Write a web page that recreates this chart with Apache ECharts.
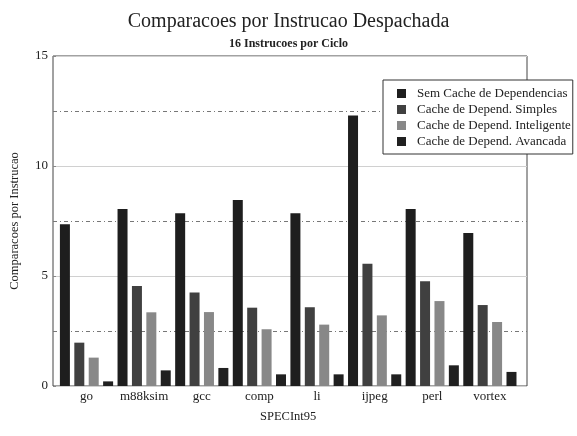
<!DOCTYPE html>
<html>
<head>
<meta charset="utf-8">
<script src="https://cdn.jsdelivr.net/npm/echarts@6/dist/echarts.min.js"></script>
<style>
  html, body { margin: 0; padding: 0; background: #fff; }
  #main { width: 577px; height: 436px; }
</style>
</head>
<body>
<div id="main"></div>
<script>
var categories = ['go', 'm88ksim', 'gcc', 'comp', 'li', 'ijpeg', 'perl', 'vortex'];
var semCache = [7.35, 8.05, 7.85, 8.45, 7.85, 12.3, 8.05, 6.95];
var simples = [1.97, 4.55, 4.25, 3.56, 3.58, 5.56, 4.76, 3.68];
var inteligente = [1.29, 3.35, 3.36, 2.58, 2.79, 3.21, 3.86, 2.91];
var avancada = [0.21, 0.71, 0.82, 0.53, 0.53, 0.53, 0.94, 0.64];
var seriesNames = ['Sem Cache de Dependencias', 'Cache de Depend. Simples', 'Cache de Depend. Inteligente', 'Cache de Depend. Avancada'];
var seriesColors = ['#1e1e1e', '#404040', '#888888', '#202020'];

var font = 'Liberation Serif';
var dom = document.getElementById('main');
var myChart = echarts.init(dom);

function barSeries(i, data) {
    return {
        name: seriesNames[i],
        type: 'bar',
        xAxisIndex: 1,
        yAxisIndex: 1,
        barWidth: 10,
        barGap: '44%',
        itemStyle: { color: seriesColors[i] },
        data: data
    };
}

var option = {
    animation: false,
    backgroundColor: '#fff',
    title: {
        text: 'Comparacoes por Instrucao Despachada',
        subtext: '16 Instrucoes por Ciclo',
        left: 'center',
        top: 7,
        itemGap: 6,
        textStyle: { fontFamily: font, fontSize: 20, fontWeight: 'normal', color: '#222' },
        subtextStyle: { fontFamily: font, fontSize: 12, fontWeight: 'bold', color: '#222' }
    },
    legend: {
        orient: 'vertical',
        left: 383,
        top: 80,
        padding: [7, 2, 6, 14],
        itemGap: 3,
        itemWidth: 9,
        itemHeight: 9,
        icon: 'rect',
        backgroundColor: '#fff',
        borderColor: '#333',
        borderWidth: 1,
        data: seriesNames,
        textStyle: { fontFamily: font, fontSize: 13, color: '#222', padding: [0, 0, 0, 6] }
    },
    grid: [
        { left: 50, right: 50, top: 56, bottom: 50, show: true, borderColor: '#444', borderWidth: 1 },
        { left: 57.7, width: 461, top: 56, bottom: 50 }
    ],
    xAxis: [
        { gridIndex: 0, type: 'category', data: categories, show: false },
        {
            gridIndex: 1,
            type: 'category',
            data: categories,
            axisLine: { show: false },
            axisTick: { show: false },
            axisLabel: { interval: 0, fontFamily: font, fontSize: 13, color: '#222', margin: 4 },
            name: 'SPECInt95',
            nameLocation: 'middle',
            nameGap: 24,
            nameTextStyle: { fontFamily: font, fontSize: 12.5, color: '#222' }
        }
    ],
    yAxis: [
        {
            gridIndex: 0,
            type: 'value',
            min: 0,
            max: 15,
            interval: 5,
            axisLine: { show: false },
            axisTick: { show: true, inside: true, length: 3, lineStyle: { color: '#888' } },
            axisLabel: { fontFamily: font, fontSize: 13, color: '#222', margin: 5 },
            splitLine: { show: true, lineStyle: { color: '#d0d0d0', width: 1 } },
            minorTick: { show: false, splitNumber: 2 },
            minorSplitLine: { show: true, lineStyle: { color: '#777', width: 1, type: [4, 3, 1, 3] } },
            name: 'Comparacoes por Instrucao',
            nameLocation: 'middle',
            nameGap: 32,
            nameTextStyle: { fontFamily: font, fontSize: 12.5, color: '#222' }
        },
        { gridIndex: 1, type: 'value', min: 0, max: 15, show: false }
    ],
    series: [
        barSeries(0, semCache),
        barSeries(1, simples),
        barSeries(2, inteligente),
        barSeries(3, avancada)
    ]
};

if (option && typeof option === 'object') {
    myChart.setOption(option);
}
</script>
</body>
</html>
